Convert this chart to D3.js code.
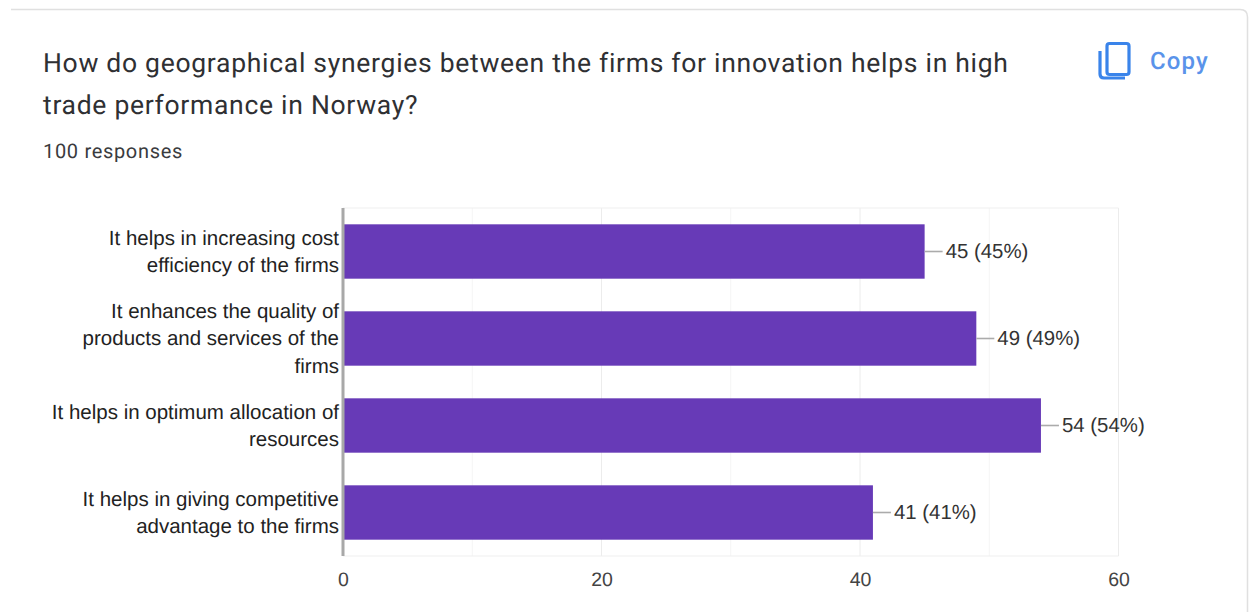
<!DOCTYPE html>
<html>
<head>
<meta charset="utf-8">
<script src="https://cdn.jsdelivr.net/npm/d3@7/dist/d3.min.js"></script>
<style>
html,body{margin:0;padding:0;background:#fff;}
svg{display:block;}
text{text-rendering:geometricPrecision;}
</style>
</head>
<body>
<svg id="chart" width="1258" height="612"></svg>
<script>
const titleLines = [
  "How do geographical synergies between the firms for innovation helps in high",
  "trade performance in Norway?"
];
const responsesLabel = "100 responses";
const categoryLines = [
  ["It helps in increasing cost", "efficiency of the firms"],
  ["It enhances the quality of", "products and services of the", "firms"],
  ["It helps in optimum allocation of", "resources"],
  ["It helps in giving competitive", "advantage to the firms"]
];
const counts = [45, 49, 54, 41];
const shares = [45, 49, 54, 41];
const majorTicks = [0, 20, 40, 60];
const minorTicks = [10, 30, 50];

const svg = d3.select("#chart");
const plot = {left: 343, right: 1118.5, top: 208, bottom: 556};

const x = d3.scaleLinear().domain([0, 60]).range([plot.left, plot.right]);
const y = d3.scaleBand().domain(d3.range(counts.length))
  .range([plot.top, plot.bottom]).paddingInner(0.375).paddingOuter(0.1875);

// Card edge
svg.append("path").attr("d", "M11,9.5H1240Q1247.5,9.5 1247.5,17V612")
  .attr("fill", "none").attr("stroke", "#e0e0e0").attr("stroke-width", 1.5);

// Heading
svg.append("g").selectAll("text").data(titleLines).join("text")
  .attr("x", 43).attr("y", (d, i) => 72 + i * 42)
  .attr("font-family", "Roboto").attr("font-size", 26.5)
  .attr("letter-spacing", 0.71).attr("fill", "#2f3033").text(d => d);

svg.append("text").attr("x", 43).attr("y", 158)
  .attr("font-family", "Roboto").attr("font-size", 20)
  .attr("letter-spacing", 0.68).attr("fill", "#3a3b3e").text(responsesLabel);

// Copy button
const copy = svg.append("g").attr("fill", "none").attr("stroke", "#3a84ea").attr("stroke-width", 3.2);
copy.append("rect").attr("x", 1107).attr("y", 43.5).attr("width", 22).attr("height", 31).attr("rx", 2.5);
copy.append("path").attr("d", "M1100,51V74Q1100,78 1104,78H1125");
svg.append("text").attr("x", 1150).attr("y", 69)
  .attr("font-family", "Roboto").attr("font-size", 24).attr("font-weight", 500)
  .attr("letter-spacing", 1.1).attr("fill", "#5a93ea").text("Copy");

// Gridlines and plot frame
svg.append("g").selectAll("line").data(minorTicks).join("line")
  .attr("x1", d => x(d)).attr("x2", d => x(d)).attr("y1", plot.top).attr("y2", plot.bottom)
  .attr("stroke", "#f5f5f5").attr("stroke-width", 1);
svg.append("g").selectAll("line").data(majorTicks.slice(1)).join("line")
  .attr("x1", d => x(d)).attr("x2", d => x(d)).attr("y1", plot.top).attr("y2", plot.bottom)
  .attr("stroke", "#ececec").attr("stroke-width", 1);
svg.append("g").selectAll("line").data([plot.top, plot.bottom]).join("line")
  .attr("x1", plot.left).attr("x2", plot.right).attr("y1", d => d).attr("y2", d => d)
  .attr("stroke", "#efefef").attr("stroke-width", 1);

// Bars
svg.append("g").selectAll("rect").data(counts).join("rect")
  .attr("x", plot.left).attr("y", (d, i) => y(i))
  .attr("width", d => x(d) - plot.left).attr("height", y.bandwidth())
  .attr("fill", "#673ab7");

// Zero baseline
svg.append("line").attr("x1", plot.left).attr("x2", plot.left)
  .attr("y1", plot.top).attr("y2", plot.bottom)
  .attr("stroke", "#a8a8a8").attr("stroke-width", 3);

// Leader lines and value labels
const centre = i => y(i) + y.bandwidth() / 2;
svg.append("g").selectAll("line").data(counts).join("line")
  .attr("x1", d => x(d)).attr("x2", d => x(d) + 18)
  .attr("y1", (d, i) => centre(i)).attr("y2", (d, i) => centre(i))
  .attr("stroke", "#ababab").attr("stroke-width", 1.6);
svg.append("g").selectAll("text").data(counts).join("text")
  .attr("x", d => x(d) + 21).attr("y", (d, i) => centre(i) + 6.8)
  .attr("font-family", "Liberation Sans").attr("font-size", 20.4)
  .attr("fill", "#333").text((d, i) => `${d} (${shares[i]}%)`);

// Category labels, wrapped and centred on each band
const lineGap = 27.3;
const catGroups = svg.append("g").selectAll("g").data(categoryLines).join("g");
catGroups.selectAll("text").data((lines, i) => lines.map((t, k) => ({t, k, n: lines.length, i}))).join("text")
  .attr("x", 339).attr("text-anchor", "end")
  .attr("y", d => centre(d.i) + 6.8 + (d.k - (d.n - 1) / 2) * lineGap)
  .attr("font-family", "Liberation Sans").attr("font-size", 20.5)
  .attr("fill", "#222").text(d => d.t);

// Value axis labels
const axis = d3.axisBottom(x).tickValues(majorTicks).tickSize(0).tickPadding(0);
const axisG = svg.append("g").attr("transform", "translate(0,570)").call(axis);
axisG.select(".domain").remove();
axisG.selectAll("text").attr("font-family", "Liberation Sans").attr("font-size", 19.5)
  .attr("dy", "0.8em").attr("fill", "#444");
</script>
</body>
</html>
